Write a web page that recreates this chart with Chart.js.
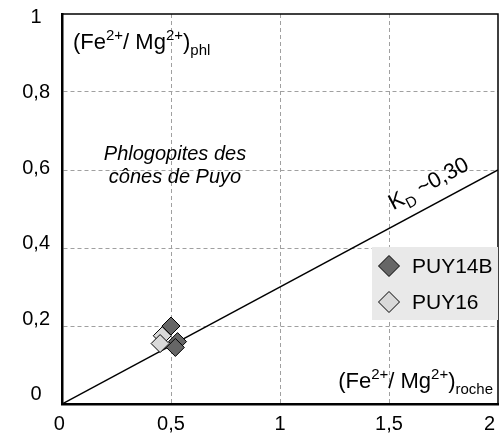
<!DOCTYPE html>
<html lang="fr">
<head>
<meta charset="UTF-8">
<title>Phlogopites des cônes de Puyo</title>
<script src="https://cdn.jsdelivr.net/npm/chart.js"></script>
<style>
  html, body { margin: 0; padding: 0; background: #fff; }
  #wrap { width: 499px; height: 444px; }
</style>
</head>
<body>
<div id="wrap"><canvas id="kdChart" width="499" height="444"></canvas></div>
<script>
// axis ticks
const xTicks = [0, 0.5, 1, 1.5, 2];
const yTicks = [0, 0.2, 0.4, 0.6, 0.8, 1];

// (Fe2+/Mg2+) roche vs phlogopite
const puy14bRoche = [0.50, 0.53, 0.52];
const puy14bPhl   = [0.20, 0.16, 0.145];
const puy16Roche  = [0.46, 0.45];
const puy16Phl    = [0.175, 0.155];

// KD ~0,30 reference line
const kdLineX = [0, 2];
const kdLineY = [0, 0.6];

// the y tick labels in the original sit on a slightly tighter scale than the grid
const yLabelMin = -0.024, yLabelMax = 1.008;

const FONT = '"Liberation Sans", Arial, sans-serif';
const comma = v => String(v).replace('.', ',');
const pts = (xs, ys) => xs.map((x, i) => ({ x: x, y: ys[i] }));

function diamond(ctx, cx, cy, r, fill) {
    ctx.beginPath();
    ctx.moveTo(cx, cy - r);
    ctx.lineTo(cx + r, cy);
    ctx.lineTo(cx, cy + r);
    ctx.lineTo(cx - r, cy);
    ctx.closePath();
    ctx.fillStyle = fill;
    ctx.fill();
    ctx.lineWidth = 1;
    ctx.strokeStyle = '#000';
    ctx.stroke();
}

// text with sup/sub parts: [text, 'n' | 'sup' | 'sub']
function richWidth(ctx, parts, big, small) {
    let w = 0;
    parts.forEach(p => {
        ctx.font = (p[1] === 'n' ? big : small) + 'px ' + FONT;
        w += ctx.measureText(p[0]).width;
    });
    return w;
}
function drawRich(ctx, x, y, parts, big, small) {
    ctx.textAlign = 'left';
    ctx.textBaseline = 'alphabetic';
    parts.forEach(p => {
        ctx.font = (p[1] === 'n' ? big : small) + 'px ' + FONT;
        let dy = p[1] === 'sup' ? -big * 0.4 : (p[1] === 'sub' ? big * 0.28 : 0);
        ctx.fillText(p[0], x, y + dy);
        x += ctx.measureText(p[0]).width;
    });
}

const notes = {
    id: 'notes',
    afterDatasetsDraw(chart) {
        const { ctx, chartArea: a, scales: { x, y } } = chart;
        ctx.save();
        ctx.fillStyle = '#000';

        // top and right frame
        ctx.strokeStyle = '#000';
        ctx.lineWidth = 1.5;
        ctx.beginPath();
        ctx.moveTo(a.left, a.top);
        ctx.lineTo(a.right, a.top);
        ctx.lineTo(a.right, a.bottom);
        ctx.stroke();

        // axis titles inside the plot
        drawRich(ctx, a.left + 11, a.top + 35,
            [['(Fe', 'n'], ['2+', 'sup'], ['/ Mg', 'n'], ['2+', 'sup'], [')', 'n'], ['phl', 'sub']], 22, 15);
        const rocheParts = [['(Fe', 'n'], ['2+', 'sup'], ['/ Mg', 'n'], ['2+', 'sup'], [')', 'n'], ['roche', 'sub']];
        drawRich(ctx, a.right - 5 - richWidth(ctx, rocheParts, 22, 15), a.bottom - 16, rocheParts, 22, 15);

        // sample group title
        ctx.font = 'italic 20px ' + FONT;
        ctx.textAlign = 'center';
        ctx.fillText('Phlogopites des', 175, 160);
        ctx.fillText('cônes de Puyo', 175, 183);

        // KD label along the line
        const px0 = x.getPixelForValue(kdLineX[0]), py0 = y.getPixelForValue(kdLineY[0]);
        const px1 = x.getPixelForValue(kdLineX[1]), py1 = y.getPixelForValue(kdLineY[1]);
        const ang = Math.atan2(py1 - py0, px1 - px0);
        const t = 0.775;
        const lx = px0 + (px1 - px0) * t, ly = py0 + (py1 - py0) * t;
        ctx.translate(lx + Math.sin(ang) * 14, ly - Math.cos(ang) * 14);
        ctx.rotate(ang);
        drawRich(ctx, 0, 0, [['K', 'n'], ['D', 'sub'], [' ~0,30', 'n']], 22, 15);
        ctx.restore();

        // legend
        ctx.save();
        const lw = 126, lh = 73;
        const lxl = a.right - lw, lyt = y.getPixelForValue(0.4) - 1;
        ctx.fillStyle = '#e9e9e9';
        ctx.fillRect(lxl, lyt, lw, lh);
        const ds = chart.data.datasets.slice(1);
        ds.forEach((d, i) => {
            const cy = lyt + 19 + i * 36;
            diamond(ctx, lxl + 17, cy, 10.5, d.backgroundColor);
            ctx.fillStyle = '#000';
            ctx.font = '21px ' + FONT;
            ctx.textAlign = 'left';
            ctx.textBaseline = 'middle';
            ctx.fillText(d.label, lxl + 40, cy + 1);
        });
        ctx.restore();
    }
};

const gridColor = ends => c => ends.includes(c.tick.value) ? 'rgba(0,0,0,0)' : '#a0a0a0';

new Chart(document.getElementById('kdChart').getContext('2d'), {
    type: 'scatter',
    data: {
        datasets: [
            { label: 'KD ~0,30', type: 'line', data: pts(kdLineX, kdLineY), borderColor: '#000',
              borderWidth: 1.5, pointRadius: 0, fill: false, order: 3 },
            { label: 'PUY14B', data: pts(puy14bRoche, puy14bPhl), pointStyle: 'rectRot', pointRadius: 9,
              backgroundColor: '#666666', borderColor: '#000', borderWidth: 1, order: 2 },
            { label: 'PUY16', data: pts(puy16Roche, puy16Phl), pointStyle: 'rectRot', pointRadius: 9,
              backgroundColor: '#d9d9d9', borderColor: '#000', borderWidth: 1, order: 1 }
        ]
    },
    options: {
        responsive: false,
        animation: false,
        layout: { autoPadding: false, padding: { top: 14, right: 1, left: 0, bottom: 0 } },
        plugins: { legend: { display: false }, tooltip: { enabled: false } },
        scales: {
            x: {
                type: 'linear', min: 0, max: 2,
                afterBuildTicks: s => { s.ticks = xTicks.map(v => ({ value: v })); },
                afterFit: s => { s.height = 40; s.paddingLeft = 0; s.paddingRight = 0; },
                ticks: {
                    color: '#000', padding: 8, maxRotation: 0,
                    font: { family: FONT, size: 20 },
                    callback: v => v === 2 ? '2\u2007 ' : (v === 0 ? '0 ' : comma(v))
                },
                grid: { color: gridColor([0, 2]), lineWidth: 1, drawTicks: false },
                border: { color: '#000', width: 2.5, dash: [4, 3] }
            },
            y: {
                type: 'linear', position: 'left', weight: 0, min: 0, max: 1,
                afterBuildTicks: s => { s.ticks = yTicks.map(v => ({ value: v })); },
                afterFit: s => { s.width = 0; s.paddingTop = 0; s.paddingBottom = 0; },
                ticks: { display: false },
                grid: { color: gridColor([0, 1]), lineWidth: 1, drawTicks: false },
                border: { color: '#000', width: 2.5, dash: [4, 3] }
            },
            yl: {
                type: 'linear', position: 'left', weight: 1, min: yLabelMin, max: yLabelMax,
                afterBuildTicks: s => { s.ticks = yTicks.map(v => ({ value: v })); },
                afterFit: s => { s.width = 62; s.paddingTop = 0; s.paddingBottom = 0; },
                ticks: {
                    color: '#000', padding: 12, crossAlign: 'center',
                    font: { family: FONT, size: 20 },
                    callback: v => comma(v)
                },
                grid: { display: false, drawTicks: false },
                border: { display: false }
            }
        }
    },
    plugins: [notes]
});
</script>
</body>
</html>
